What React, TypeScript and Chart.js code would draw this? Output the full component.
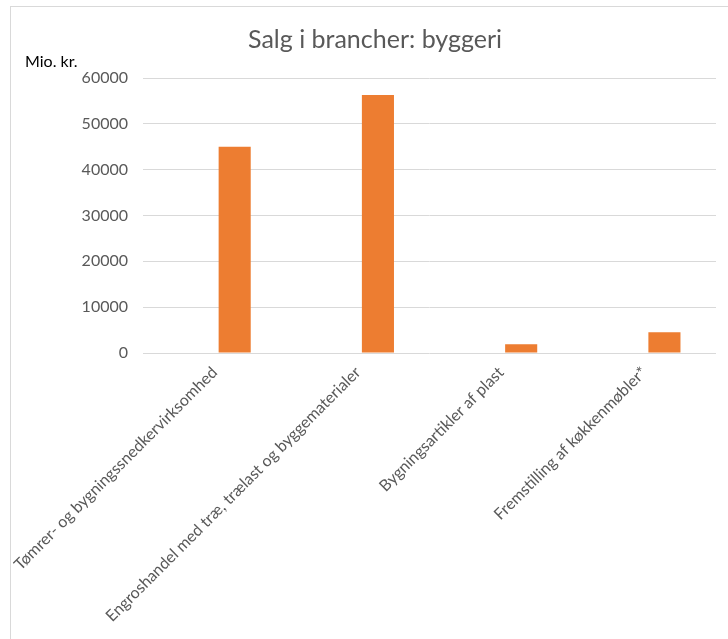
import React, { useEffect, useRef } from "react";
import { Chart, registerables } from "chart.js";

Chart.register(...registerables);

const categories = [
  "Tømrer- og bygningssnedkervirksomhed",
  "Engroshandel med træ, trælast og byggematerialer",
  "Bygningsartikler af plast",
  "Fremstilling af køkkenmøbler*",
];
const hiddenSeries: (number | null)[] = [null, null, null, null];
const salesValues = [45000, 56300, 1900, 4550];
const titleText = "Salg i brancher: byggeri";
const unitLabel = "Mio. kr.";
const yMax = 60000;
const yStep = 10000;

const FONT = "Lato, 'Open Sans', sans-serif";

const overlayPlugin = {
  id: "overlayText",
  afterDraw(chart: any) {
    const ctx = chart.ctx;
    ctx.save();
    ctx.fillStyle = "#595959";
    ctx.font = `25px ${FONT}`;
    ctx.textAlign = "center";
    ctx.textBaseline = "alphabetic";
    ctx.fillText(titleText, 364, 41);
    ctx.fillStyle = "#000000";
    ctx.font = `16px ${FONT}`;
    ctx.textAlign = "left";
    ctx.fillText(unitLabel, 14, 60);
    ctx.restore();
  },
};

export default function App() {
  const ref = useRef<HTMLCanvasElement | null>(null);
  useEffect(() => {
    if (!ref.current) return;
    const chart = new Chart(ref.current, {
      type: "bar",
      data: {
        labels: categories,
        datasets: [
          {
            label: "skjult",
            data: hiddenSeries,
            backgroundColor: "rgba(0,0,0,0)",
          },
          {
            label: "Salg",
            data: salesValues,
            backgroundColor: "#ED7D31",
          },
        ],
      },
      options: {
        responsive: false,
        animation: false,
        maintainAspectRatio: false,
        layout: { padding: { top: 71, right: 12, left: 0, bottom: 11 } },
        datasets: {
          bar: { categoryPercentage: 0.56, barPercentage: 0.8 },
        } as any,
        plugins: {
          legend: { display: false },
          title: { display: false },
          tooltip: { enabled: false },
        },
        scales: {
          x: {
            grid: { display: false, drawTicks: false },
            border: { display: false },
            afterFit: (scale: any) => {
              scale.paddingLeft = 0;
              scale.paddingRight = 0;
            },
            ticks: {
              minRotation: 45,
              maxRotation: 45,
              padding: 10,
              color: "#595959",
              font: { family: FONT, size: 16 },
              autoSkip: false,
            },
          },
          y: {
            min: 0,
            max: yMax,
            grid: { color: "#D9D9D9", lineWidth: 1, drawTicks: false },
            border: { display: false },
            afterFit: (scale: any) => {
              scale.width = 132;
            },
            ticks: {
              stepSize: yStep,
              padding: 15,
              color: "#595959",
              font: { family: FONT, size: 16 },
              callback: (v: any) => String(v),
            },
          },
        },
      },
      plugins: [overlayPlugin],
    });
    return () => chart.destroy();
  }, []);
  return (
    <div
      style={{
        position: "absolute",
        left: 10,
        top: 6,
        width: 718,
        height: 633,
        borderLeft: "1px solid #D9D9D9",
        borderTop: "1px solid #D9D9D9",
        background: "#fff",
      }}
    >
      <canvas ref={ref} width={717} height={632} style={{ display: "block" }} />
    </div>
  );
}
